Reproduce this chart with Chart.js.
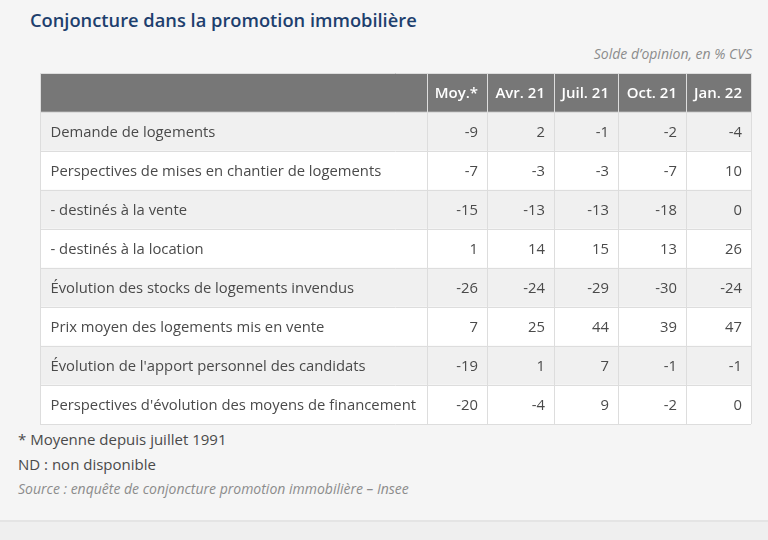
<!DOCTYPE html>
<html lang="fr">
<head>
<meta charset="utf-8">
<script src="https://cdn.jsdelivr.net/npm/chart.js@4.4.1/dist/chart.umd.min.js"></script>
<style>
  html, body { margin: 0; padding: 0; }
  body {
    width: 768px; height: 540px; overflow: hidden; position: relative;
    background: #f5f5f5; font-family: "Open Sans", sans-serif; color: #4a4a4a;
  }
  .title { position: absolute; left: 30px; top: 7px; font-size: 18.3px; font-weight: 600; color: #1d3f6e; }
  .unit { position: absolute; right: 16px; top: 44px; font-size: 14px; font-style: italic; color: #8c8c8c; }
  .note { position: absolute; left: 18px; font-size: 15px; color: #4a4a4a; }
  .src { position: absolute; left: 18px; top: 479px; font-size: 14px; font-style: italic; color: #8c8c8c; }
  .foot { position: absolute; left: 0; top: 520px; width: 768px; height: 20px; background: #efefef; border-top: 2px solid #e4e4e4; }
  #wrap { position: absolute; left: 39px; top: 72px; width: 713px; height: 353px; }
</style>
</head>
<body>
<div class="title">Conjoncture dans la promotion immobilière</div>
<div class="unit">Solde d’opinion, en % CVS</div>
<div id="wrap"><canvas id="tableChart"></canvas></div>
<div class="note" style="top:429px">* Moyenne depuis juillet 1991</div>
<div class="note" style="top:454px">ND : non disponible</div>
<div class="src">Source : enquête de conjoncture promotion immobilière – Insee</div>
<div class="foot"></div>
<script>
const columns = ['Moy.*', 'Avr. 21', 'Juil. 21', 'Oct. 21', 'Jan. 22'];
const rowLabels = [
    'Demande de logements',
    'Perspectives de mises en chantier de logements',
    '- destinés à la vente',
    '- destinés à la location',
    'Évolution des stocks de logements invendus',
    'Prix moyen des logements mis en vente',
    "Évolution de l'apport personnel des candidats",
    "Perspectives d'évolution des moyens de financement"
];
const moy = [-9, -7, -15, 1, -26, 7, -19, -20];
const avr21 = [2, -3, -13, 14, -24, 25, 1, -4];
const juil21 = [-1, -3, -13, 15, -29, 44, 7, 9];
const oct21 = [-2, -7, -18, 13, -30, 39, -1, -2];
const jan22 = [-4, 10, 0, 26, -24, 47, -1, 0];

const seriesValues = [moy, avr21, juil21, oct21, jan22];

// Column widths in table units (layout, not data)
const colWidths = [388, 59, 67, 64, 68, 65];
const colEdges = colWidths.reduce((acc, w) => { acc.push(acc[acc.length - 1] + w); return acc; }, [0]);
const totalWidth = colEdges[colEdges.length - 1];

const yLabels = ['header'].concat(rowLabels);

// One floating bar dataset per column: each bar is a cell
const datasets = colWidths.map((w, c) => ({
    label: c === 0 ? 'label' : columns[c - 1],
    data: yLabels.map(() => [colEdges[c], colEdges[c + 1]]),
    backgroundColor: ctx => ctx.dataIndex === 0 ? '#777777' : (ctx.dataIndex % 2 === 1 ? '#f0f0f0' : '#ffffff'),
    borderWidth: 0,
    borderSkipped: false,
    barPercentage: 1,
    categoryPercentage: 1,
    grouped: false
}));

// Draw the cell texts at the bar elements' positions
const cellText = {
    id: 'cellText',
    afterDraw(chart) {
        const ctx = chart.ctx;
        ctx.save();
        ctx.textBaseline = 'middle';
        chart.data.datasets.forEach((ds, c) => {
            const meta = chart.getDatasetMeta(c);
            meta.data.forEach((bar, r) => {
                const left = Math.min(bar.x, bar.base);
                const right = Math.max(bar.x, bar.base);
                let text;
                if (r === 0) {
                    text = c === 0 ? '' : columns[c - 1];
                    ctx.font = '600 15px "Open Sans"';
                    ctx.fillStyle = '#ffffff';
                } else {
                    text = c === 0 ? rowLabels[r - 1] : String(seriesValues[c - 1][r - 1]);
                    ctx.font = '14.8px "Open Sans"';
                    ctx.fillStyle = '#4a4a4a';
                }
                if (c === 0) {
                    ctx.textAlign = 'left';
                    ctx.fillText(text, left + 10, bar.y + 1);
                } else {
                    ctx.textAlign = 'right';
                    ctx.fillText(text, right - 9, bar.y + 1);
                }
            });
        });
        ctx.restore();
    }
};

new Chart(document.getElementById('tableChart'), {
    type: 'bar',
    data: { labels: yLabels, datasets: datasets },
    options: {
        indexAxis: 'y',
        responsive: true,
        maintainAspectRatio: false,
        animation: false,
        layout: { padding: 1 },
        scales: {
            x: {
                type: 'linear',
                min: 0,
                max: totalWidth,
                afterBuildTicks: scale => { scale.ticks = colEdges.map(v => ({ value: v })); },
                ticks: { display: false },
                grid: { z: 1, color: '#dddddd', lineWidth: 1, drawTicks: false },
                border: { display: false }
            },
            y: {
                type: 'category',
                offset: true,
                ticks: { display: false },
                grid: { z: 1, offset: true, color: '#dddddd', lineWidth: 1, drawTicks: false },
                border: { display: false }
            }
        },
        plugins: {
            legend: { display: false },
            tooltip: { enabled: false }
        }
    },
    plugins: [cellText]
});
</script>
</body>
</html>
